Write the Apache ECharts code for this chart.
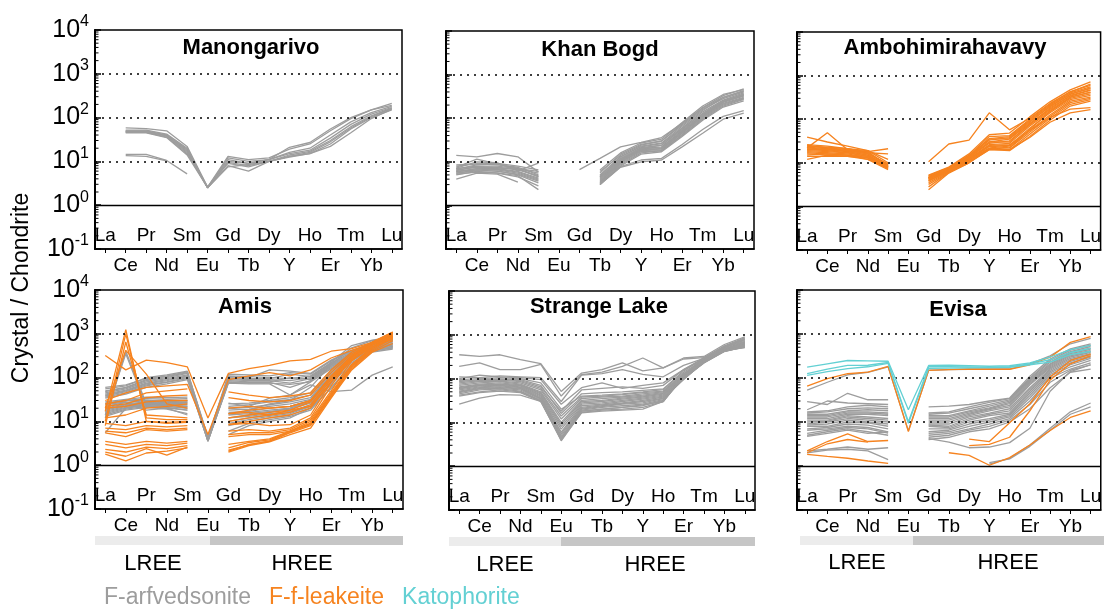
<!DOCTYPE html>
<html>
<head>
<meta charset="utf-8">
<script src="https://cdn.jsdelivr.net/npm/echarts@6/dist/echarts.min.js"></script>
<style>
  html, body { margin: 0; padding: 0; background: #fff; }
  #chart { width: 1104px; height: 610px; }
</style>
</head>
<body>
<div id="chart"></div>
<script>
// REE order used on every spider diagram (Y placed between Dy and Ho)
const elements = ['La', 'Ce', 'Pr', 'Nd', 'Sm', 'Eu', 'Gd', 'Tb', 'Dy', 'Y', 'Ho', 'Er', 'Tm', 'Yb', 'Lu'];
const yTickValues = [0.1, 1, 10, 100, 1000, 10000];
const minorSteps = [2, 3, 4, 5, 6, 7, 8, 9];
const minorDecades = [0.1, 1, 10, 100, 1000];
const seriesNames = ['F-arfvedsonite', 'F-f-leakeite', 'Katophorite'];

// Chondrite-normalised analyses, one row per crystal (null = not determined)
const manongarivoArf = [
  [null, 58, 56, 50, 22, 2.6, 13, 11, 12, 19, 25, 50, 95, 150, 210],
  [null, 52, 52, 42, 20, 2.5, 12, 10, 11, 16, 20, 40, 80, 130, 180],
  [null, 50, 50, 40, 18, 2.5, 10, 9, 11, 15, 18, 34, 70, 120, 170],
  [null, 48, 48, 38, 17, 2.5, 9.5, 8, 10, 14, 17, 30, 62, 110, 165],
  [null, 47, 46, 36, 15, 2.6, 9, 7.5, 10, 13, 16, 28, 58, 105, 160],
  [null, 45, 45, 35, 14, 2.5, 8, 6, 10, 13, 15, 25, 55, 100, 150],
  [null, 46, 47, 40, 19, 2.6, 11, 9, 11, 21, 27, 55, 100, 150, 190],
  [null, 49, 49, 38, 16, 2.5, 7.5, 8.5, 10, 12.5, 15, 22, 45, 95, 155],
  [null, 14.5, 14.5, 10.5, 5.2, null, null, null, null, null, null, null, null, null, null],
  [null, 13.5, 13, 10.3, null, null, null, null, null, null, null, null, null, null, null]
];

const khanBogdArf = [
  [14, 13, 15.5, 13, 5.8, null, null, 6.0, 14, 24, 30, 70, 160, 280, 400],
  [8, 9, 8.5, 7.5, 5.0, null, null, 5.0, 13, 22, 26, 60, 140, 260, 380],
  [7.5, 11.5, 9, 7, 4.5, null, null, 4.5, 12, 21, 24, 55, 130, 250, 350],
  [7, 8, 8, 7, 5.5, null, null, 4.2, 11, 20, 22, 52, 120, 240, 330],
  [6.5, 7.5, 7.5, 6.5, 4.8, null, null, 4.0, 10.5, 20, 21, 50, 115, 230, 320],
  [6, 7, 7, 6, 4.2, null, null, 3.8, 10, 19, 20, 48, 110, 220, 300],
  [6, 6.5, 6.8, 5.8, 4.0, null, null, 3.5, 9.5, 18, 19, 45, 105, 210, 290],
  [5.8, 7, 6.5, 5.5, 3.8, null, null, 3.3, 9, 17, 18, 42, 100, 200, 280],
  [5.5, 6.5, 6, 5.2, 3.6, null, null, 3.2, 8.5, 16, 18, 40, 95, 190, 270],
  [5.5, 6.2, 6.2, 5, 3.3, null, null, 3.0, 8, 15, 17, 38, 90, 180, 250],
  [5, 6, 5.5, 4.5, 2.8, null, null, 3.0, 7.8, 11, 12, 25, 55, 110, 150],
  [4, 5.5, 5.2, 3.4, null, null, null, 3.0, 7.5, 10, 11, 22, 45, 95, 130],
  [6.8, 8.5, 9, 7, 6, null, null, 5.5, 15, 25, 30, 75, 175, 330, 470],
  [7.2, 10, 9.5, 6.2, 9.3, null, null, 6.5, 16, 27, 33, 80, 190, 350, 450],
  [6.3, 7.8, 7.2, 6.8, 4.6, null, null, 4.8, 13, 23, 27, 65, 150, 300, 420],
  [5.2, 5.8, 5.6, 4.8, 2.3, null, null, 3.6, 10, 18, 20, 46, 110, 240, 360],
  [null, null, null, null, null, null, 6.6, 12, 22, 28, 36, 76, 170, 300, 430],
  [8.5, 9, 9.2, 8, 6.5, null, null, 4.4, 11.5, 20, 24, 58, 125, 245, 340]
];

const ambohimirahavavyLeak = [
  [22, 49, 20, 18, 8.5, null, 10.6, 27, 33, 140, 57, 105, 230, 420, 640],
  [39, 30, 24, 19, 12, null, 5.2, 8, 16, 44, 48, 113, 250, 470, 720],
  [26, 24, 21, 17, 9, null, 5.0, 7.8, 15, 40, 42, 100, 220, 430, 600],
  [25, 22, 20, 18, 21, null, 4.8, 7.5, 14.5, 36, 40, 95, 210, 400, 550],
  [24, 22, 19, 17, 16, null, 4.5, 7.2, 14, 33, 38, 90, 190, 380, 500],
  [23, 21, 19, 16, 9, null, 4.5, 7, 13.5, 30, 35, 80, 170, 340, 460],
  [22, 20, 18, 15, 8.5, null, 4.3, 7, 13, 28, 32, 75, 160, 320, 420],
  [21, 20, 18, 15, 8, null, 4.2, 6.8, 12.5, 26, 28, 70, 150, 300, 380],
  [20, 19, 17, 14, 8, null, 4.0, 6.5, 12, 24, 25, 62, 140, 280, 350],
  [19, 18, 17, 14, 7.5, null, 3.8, 6.5, 11.5, 22, 24, 55, 125, 260, 320],
  [18, 17, 16, 13, 7.5, null, 3.5, 6.2, 11, 21, 22, 50, 115, 240, 300],
  [17, 16, 15, 13, 7.2, null, 3.2, 6.0, 10.5, 20, 20, 45, 105, 220, 280],
  [16, 15, 15, 12, 7, null, 2.4, 5.8, 10, 20, 19, 40, 95, 200, 260],
  [14, 14, 14, 12, 8, null, 2.8, 6.0, 10, 21, 20, 38, 85, 140, 165],
  [12, 15, 14, 13, 7.8, null, 4.6, 6.6, 12, 25, 26, 55, 110, 170, 185],
  [24, 23, 21, 19, 10, null, 4.6, 7.6, 14, 35, 36, 85, 200, 370, 520],
  [20, 20, 19, 16, 9.5, null, 4.4, 7.2, 13, 30, 30, 78, 180, 350, 470],
  [15, 16, 15, 14, 8.2, null, 3.9, 6.4, 11.8, 24, 22, 58, 150, 320, 410]
];

const amisArf = [
  [55, 65, 100, 115, 140, 4.2, 120, 115, 110, 130, 120, 240, 400, 560, 800],
  [50, 60, 90, 105, 130, 4.0, 110, 105, 100, 95, 110, 220, 380, 530, 760],
  [48, 58, 85, 100, 125, 3.8, 100, 95, 95, 120, 105, 210, 360, 500, 700],
  [45, 55, 80, 95, 115, 3.9, 95, 90, 90, 85, 100, 200, 340, 480, 650],
  [42, 52, 75, 90, 110, 3.7, 90, 85, 85, 75, 95, 190, 320, 460, 600],
  [40, 50, 72, 85, 105, 3.6, 85, 80, 80, 100, 90, 180, 300, 440, 560],
  [38, 48, 68, 80, 100, 3.5, 80, 78, 78, 60, 85, 170, 290, 420, 520],
  [36, 45, 65, 78, 95, 3.5, 78, 75, 75, 70, 80, 160, 280, 400, 480],
  [34, 42, 60, 72, 90, 3.6, 75, 72, 72, 40, 68, 48, 52, 114, 175],
  [60, 68, 95, 110, 135, 4.4, 105, 100, 150, 140, 125, 250, 420, 580, 850],
  [28, 32, 36, 35, 36, null, 25, 26, 30, 35, 45, 150, 400, 650, 850],
  [25, 30, 33, 32, 33, null, 22, 24, 28, 32, 40, 140, 380, 600, 820],
  [22, 27, 30, 29, 30, null, 20, 21, 24, 28, 35, 130, 350, 560, 800],
  [20, 25, 28, 27, 28, null, 18, 19, 22, 25, 32, 120, 330, 540, 760],
  [19, 24, 27, 26, 27, null, 16, 17, 20, 22, 30, 110, 300, 520, 720],
  [18, 23, 26, 25, 26, null, 15, 16, 18, 20, 28, 100, 290, 500, 700],
  [17, 22, 25, 24, 24, null, 14, 15, 17, 19, 26, 95, 280, 480, 650],
  [16, 21, 24, 23, 22, null, 12, 13, 15, 17, 24, 90, 260, 460, 600],
  [15, 20, 23, 22, 20, null, 10, 12, 14, 16, 22, 80, 240, 440, 560],
  [14, 19, 22, 21, 18, null, 8, 10, 12, 14, 20, 70, 220, 420, 520],
  [13, 18, 21, 19, 15, null, 6, 9, 11, 13, 18, 60, 200, 400, 480],
  [12, 400, 25, 22, 20, null, 5, 8, 10, 12, 20, 56, 190, 380, 450],
  [14, 350, 22, 20, 18, null, 9, 11, 13, 15, 22, 75, 250, 450, 600],
  [5.5, 20, 26, 24, 22, null, 12, 14, 16, 20, 30, 110, 320, 550, 780],
  [24, 28, 18, 20, 14, null, 20, 18, 25, 30, 60, 200, 480, 700, 800],
  [26, 30, 30, 28, 30, null, 26, 22, 34, 40, 80, 225, 540, 720, 850]
];

const amisLeak = [
  [17, 1250, 10, 9, 9.5, null, 8.5, 10, 12, 14, 20, 80, 260, 550, 1000],
  [10, 1000, 12, 11, 11, null, 10, 12, 14, 16, 24, 90, 280, 600, 1050],
  [8, 650, 14, 13, 12, null, 12, 14, 16, 18, 28, 100, 300, 620, 1000],
  [20, 420, 120, 25, 20, null, 15, 18, 20, 22, 30, 110, 320, 640, 950],
  [320, 150, 250, 220, 175, 12, 125, 160, 190, 240, 260, 400, 460, 640, 1090],
  [30, 45, 60, 65, 70, 5, 90, 110, 130, 110, 150, 280, 420, 600, 900],
  [25, 30, 45, 50, 55, null, 47, 40, 35, 38, 45, 150, 380, 620, 900],
  [22, 25, 35, 38, 40, null, 35, 30, 28, 30, 40, 130, 350, 600, 850],
  [20, 22, 28, 30, 30, null, 20, 22, 20, 22, 30, 100, 300, 550, 800],
  [12, 14, 20, 22, 25, null, 15, 16, 14, 18, 22, 80, 250, 500, 750],
  [9, 8, 10, 9.5, 10, null, 8.4, 9, 8, 8.4, 14, 80, 320, 650, 1100],
  [7, 6.5, 8, 7.5, 8, null, 6, 6.5, 6, 7, 12, 65, 280, 600, 1050],
  [6, 5.5, 7, 6.5, 7, null, 5, 5.5, 5.5, 6.5, 11, 50, 240, 550, 950],
  [5.5, 4.5, 6.5, 6, 6.5, null, 4.5, 5, 5, 6, 10, 45, 200, 500, 900],
  [3.5, 3, 3.5, 3.2, 3.5, null, 3, 3.5, 4, 6, 9, 40, 180, 450, 850],
  [3, 2.5, 3, 2.8, 3.2, null, 2.5, 3.3, 3.8, 5.9, 8.4, 38, 170, 420, 800],
  [2.3, 2, 2.6, 2.4, 2.8, null, 2.1, 3, 3.5, 5.5, 8, 36, 160, 400, 700],
  [2, 1.6, 2.4, 1.7, 2.6, null, 2.0, 2.8, 3.4, 5, 7, 34, 150, 380, 600],
  [1.8, 1.25, 1.9, 2.1, 2.5, null, 2.2, 2.9, 3.6, 5.6, 9, 42, 190, 480, 880]
];

const strangeLakeArf = [
  [350, 320, 350, 270, 220, 51, 134, 160, 228, 150, 175, 295, 320, 600, 900],
  [190, 228, 160, 160, 210, 40, 123, 140, 190, 295, 175, 280, 300, 560, 850],
  [110, 105, 115, 110, 105, 30, 120, 130, 160, 125, 110, 200, 290, 520, 800],
  [100, 120, 110, 105, 95, 26, 62, 80, 60, 70, 80, 160, 280, 500, 780],
  [95, 100, 105, 100, 80, 20, 40, 42, 45, 50, 56, 140, 270, 480, 700],
  [80, 90, 92, 85, 60, 14, 38, 40, 43, 48, 52, 130, 260, 470, 680],
  [75, 85, 88, 80, 55, 12, 35, 38, 40, 45, 50, 125, 250, 460, 650],
  [70, 80, 85, 75, 50, 10, 32, 35, 38, 42, 48, 120, 245, 450, 620],
  [65, 75, 80, 72, 47, 9, 30, 32, 36, 40, 46, 115, 240, 440, 600],
  [62, 72, 75, 70, 45, 8, 28, 30, 34, 38, 44, 110, 235, 430, 580],
  [60, 70, 72, 68, 42, 7, 26, 28, 32, 36, 42, 105, 230, 420, 560],
  [58, 68, 70, 65, 40, 6, 24, 26, 30, 34, 40, 100, 228, 415, 540],
  [55, 65, 68, 62, 38, 5.5, 22, 25, 28, 32, 38, 98, 235, 420, 530],
  [52, 62, 65, 60, 36, 5, 21, 24, 27, 30, 36, 96, 240, 430, 520],
  [50, 60, 62, 58, 35, 4.5, 20, 23, 26, 28, 35, 95, 245, 440, 510],
  [48, 58, 60, 55, 34, 4.2, 19, 22, 24, 26, 33, 100, 250, 450, 560],
  [45, 55, 58, 52, 32, 4.1, 18, 20, 22, 24, 32, 105, 260, 460, 600],
  [42, 50, 55, 50, 31, 3.8, 17, 19, 20, 22, 30, 110, 270, 470, 640],
  [40, 48, 52, 48, 30, 4, 16.6, 18, 19, 20, 30, 115, 280, 480, 660],
  [26, 36, 43, 42, 30, 4.5, 18, 20, 22, 25, 30, 120, 300, 520, 700],
  [85, 95, 98, 95, 70, 16, 45, 48, 50, 54, 58, 150, 290, 520, 750],
  [90, 88, 95, 90, 65, 18, 55, 60, 65, 60, 70, 160, 300, 540, 820]
];

const evisaArf = [
  [53, 80, 118, 135, 180, 6.3, 150, 155, 158, 160, 160, 210, 320, 600, 800],
  [29, 25, 45, 32, 32, null, 22, 23, 25, 30, 35, 110, 270, 460, 600],
  [19, 30, 27, 26, 25, null, 16, 17, 22, 28, 34, 100, 250, 430, 560],
  [17, 18, 22, 24, 22, null, 15, 16, 20, 25, 32, 95, 230, 400, 520],
  [16, 17, 20, 21, 20, null, 14, 14, 18, 23, 30, 90, 210, 380, 480],
  [15, 15, 18, 19, 18, null, 13, 13, 17, 21, 28, 85, 200, 360, 450],
  [14, 14, 17, 17, 16, null, 12, 12, 16, 20, 26, 80, 190, 340, 420],
  [13, 13, 16, 16, 15, null, 11, 11, 15, 19, 24, 75, 180, 320, 400],
  [12, 12, 15, 15, 14, null, 10, 10, 14, 18, 22, 70, 170, 300, 380],
  [11, 11, 14, 13, 12, null, 9, 9, 13, 16, 20, 60, 160, 280, 360],
  [10, 10.5, 13, 12, 11, null, 8.5, 8, 12, 15, 18, 55, 150, 260, 340],
  [9, 10, 12, 11, 10, null, 8, 7.5, 11, 14, 16, 50, 140, 240, 320],
  [8.5, 9, 11, 10, 9, null, 7, 7, 10, 12, 15, 45, 130, 220, 300],
  [8, 8, 10, 9.5, 8, null, 6, 6.5, 9, 11, 14, 40, 120, 200, 280],
  [7, 7.5, 9, 8.5, 7, null, 5.5, 6, 8, 10, 13, 35, 110, 180, 250],
  [6.5, 7, 8, 7.5, 6, null, 5, 5.5, 7, 9, 12, 30, 100, 160, 220],
  [5.5, 6.5, 7.5, 7, 5.6, null, 4.5, 5, 6.5, 8, 11, 25, 80, 150, 200],
  [5, 6, 7, 6, 5, null, 4, 4.5, 6, 7, 10, 20, 60, 135, 160],
  [4.7, 5.5, 6.5, 5.5, 6, null, 4.2, 3.5, 2.6, 2.7, 3.4, 7.2, 50, 140, 200],
  [2.2, 2.4, 2.7, 2.4, 2.6, null, null, null, null, 1.1, 1.5, 3.0, 7.2, 17, 27],
  [2.0, 2.3, 2.4, 2.2, 1.4, null, null, null, null, 1.2, 1.45, 2.8, 6.5, 15, 22]
];

const evisaLeak = [
  [65, 97, 125, 136, 183, 6.1, 149, 155, 160, 158, 158, 200, 296, 645, 870],
  [2.2, 3.6, 5.4, 3.6, 3.8, null, null, null, 4.1, 3.6, 9.6, 26, 105, 250, 350],
  [2.0, 3.2, 4.0, 3.5, null, null, null, null, 2.9, 3.1, 4.5, 18, 90, 210, 320],
  [1.83, 1.65, 1.5, 1.3, 1.15, null, null, 2.0, 1.75, 1.04, 1.55, 3.0, 6.4, 12.7, 18]
];

const evisaKat = [
  [177, 210, 250, 245, 240, 19, 193, 195, 190, 185, 190, 220, 300, 440, 550],
  [125, 160, 193, 195, 225, 10.2, 180, 180, 178, 175, 180, 210, 260, 380, 470],
  [115, 140, 163, 180, 215, 9.4, 165, 168, 170, 172, 175, 200, 230, 340, 400]
];

const COLORS = { arf: '#9d9d9d', leak: '#f6831f', kat: '#63d0d3' };
const FONT = '"Liberation Sans", Arial, Helvetica, sans-serif';

const panels = [
  { title: 'Manongarivo', tx: 251, ty: 48, rect: [95, 30, 307, 219], labels: true,
    groups: [[manongarivoArf, 0, COLORS.arf]] },
  { title: 'Khan Bogd', tx: 600, ty: 50, rect: [446, 31, 308, 218], labels: false,
    groups: [[khanBogdArf, 0, COLORS.arf]] },
  { title: 'Ambohimirahavavy', tx: 945, ty: 48, rect: [797, 32, 305, 218], labels: false,
    groups: [[ambohimirahavavyLeak, 1, COLORS.leak]] },
  { title: 'Amis', tx: 245, ty: 307, rect: [95, 290, 308, 219], labels: true,
    groups: [[amisArf, 0, COLORS.arf], [amisLeak, 1, COLORS.leak]] },
  { title: 'Strange Lake', tx: 599, ty: 307, rect: [449, 291, 306, 219], labels: false,
    groups: [[strangeLakeArf, 0, COLORS.arf]] },
  { title: 'Evisa', tx: 958, ty: 310, rect: [797, 290, 310, 220], labels: false,
    groups: [[evisaArf, 0, COLORS.arf], [evisaLeak, 1, COLORS.leak], [evisaKat, 2, COLORS.kat]] }
];

const minorTickValues = [];
minorDecades.forEach(d => minorSteps.forEach(s => minorTickValues.push([0, s * d])));

const grids = [], xAxes = [], yAxes = [], series = [], graphics = [];

panels.forEach((p, i) => {
  const [left, top, width, height] = p.rect;
  grids.push({ left, top, width, height, show: true, borderColor: '#000', borderWidth: 1.5,
    backgroundColor: 'transparent' });

  // outer axis: ticks at every element, labels Ce, Nd, Eu, ... below the frame
  xAxes.push({
    gridIndex: i, type: 'category', data: elements, boundaryGap: true, position: 'bottom',
    axisLine: { show: true, onZero: false, lineStyle: { color: '#000', width: 1.5 } },
    axisTick: { show: true, alignWithLabel: true, interval: 0, length: 4, lineStyle: { color: '#000', width: 1 } },
    axisLabel: { interval: (idx) => idx % 2 === 1, fontSize: 19, color: '#000', fontFamily: FONT, margin: 7 },
    splitLine: { show: false }
  });
  // inner axis: labels La, Pr, Sm, ... drawn inside the frame
  xAxes.push({
    gridIndex: i, type: 'category', data: elements, boundaryGap: true, position: 'bottom',
    axisLine: { show: false, onZero: false }, axisTick: { show: false },
    axisLabel: { inside: true, interval: (idx) => idx % 2 === 0, fontSize: 19, color: '#000', fontFamily: FONT, margin: 4 },
    splitLine: { show: false }
  });

  yAxes.push({
    gridIndex: i, type: 'log', logBase: 10, min: yTickValues[0], max: yTickValues[yTickValues.length - 1],
    axisLine: { show: true, lineStyle: { color: '#000', width: 2 } },
    axisTick: { show: true, inside: true, length: 6, lineStyle: { color: '#000', width: 1.5 } },
    axisLabel: {
      show: p.labels, margin: 6, color: '#000', fontFamily: FONT,
      formatter: (v) => '{b|10}{s|' + Math.round(Math.log10(v)) + '}',
      rich: {
        b: { fontSize: 25, fontFamily: FONT, color: '#000' },
        s: { fontSize: 16, fontFamily: FONT, color: '#000', padding: [0, 0, 16, 0] }
      }
    },
    splitLine: { show: false }
  });

  let first = true;
  p.groups.forEach(([rows, nameIdx, color]) => {
    rows.forEach((row) => {
      const s = {
        type: 'line', name: seriesNames[nameIdx], xAxisIndex: i * 2, yAxisIndex: i,
        data: row, symbol: 'none', connectNulls: false, silent: true, animation: false,
        lineStyle: { color, width: 1.3 }, itemStyle: { color }, z: 3 + nameIdx
      };
      if (first) {
        s.markLine = {
          silent: true, symbol: 'none', animation: false, label: { show: false },
          data: [
            { yAxis: 1, lineStyle: { type: 'solid', color: '#000', width: 1.3 } },
            { yAxis: 10, lineStyle: { type: [2, 5], color: '#000', width: 1.5 } },
            { yAxis: 100, lineStyle: { type: [2, 5], color: '#000', width: 1.5 } },
            { yAxis: 1000, lineStyle: { type: [2, 5], color: '#000', width: 1.5 } }
          ]
        };
        first = false;
      }
      series.push(s);
    });
  });

  // logarithmic minor ticks along the left frame
  series.push({
    type: 'custom', xAxisIndex: i * 2, yAxisIndex: i, silent: true, animation: false,
    data: minorTickValues, encode: { x: 0, y: 1 }, z: 2,
    renderItem: (params, api) => {
      const y = api.coord([0, api.value(1)])[1];
      const x0 = params.coordSys.x;
      return { type: 'line', shape: { x1: x0, y1: y, x2: x0 + 3.5, y2: y },
        style: { stroke: '#000', lineWidth: 1 } };
    }
  });

  graphics.push({ type: 'text', x: p.tx, y: p.ty, style: { text: p.title, font: 'bold 22px ' + FONT,
    fill: '#000', textAlign: 'center', textVerticalAlign: 'middle' } });
});

// LREE / HREE bands under the lower row
const bands = [
  [95, 210, 403, 536, 153, 302, 564],
  [449, 561, 755, 537, 505, 655, 565],
  [800, 913, 1104, 536, 857, 1008, 563]
];
bands.forEach(([x0, x1, x2, y, lx, hx, ty]) => {
  graphics.push({ type: 'rect', shape: { x: x0, y, width: x1 - x0, height: 9 }, style: { fill: '#ececec' } });
  graphics.push({ type: 'rect', shape: { x: x1, y, width: x2 - x1, height: 9 }, style: { fill: '#c6c6c6' } });
  graphics.push({ type: 'text', x: lx, y: ty, style: { text: 'LREE', font: '22px ' + FONT, fill: '#000',
    textAlign: 'center', textVerticalAlign: 'middle' } });
  graphics.push({ type: 'text', x: hx, y: ty, style: { text: 'HREE', font: '22px ' + FONT, fill: '#000',
    textAlign: 'center', textVerticalAlign: 'middle' } });
});

graphics.push({ type: 'text', x: 22, y: 288, rotation: Math.PI / 2,
  style: { text: 'Crystal / Chondrite', font: '23px ' + FONT, fill: '#000', textAlign: 'center', textVerticalAlign: 'middle' } });

const chart = echarts.init(document.getElementById('chart'), null, { renderer: 'canvas' });
chart.setOption({
  animation: false,
  backgroundColor: '#fff',
  grid: grids,
  xAxis: xAxes,
  yAxis: yAxes,
  legend: {
    left: 94, top: 581, icon: 'none', itemWidth: 0, itemGap: 13, selectedMode: false,
    textStyle: { fontSize: 23, fontFamily: FONT },
    data: [
      { name: seriesNames[0], textStyle: { color: COLORS.arf } },
      { name: seriesNames[1], textStyle: { color: COLORS.leak } },
      { name: seriesNames[2], textStyle: { color: COLORS.kat } }
    ]
  },
  series,
  graphic: graphics
});
</script>
</body>
</html>
